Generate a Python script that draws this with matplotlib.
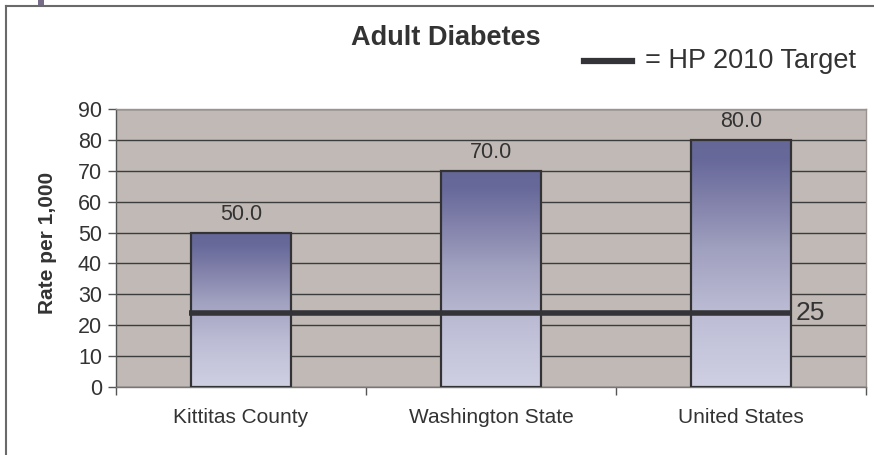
import numpy as np
import matplotlib
matplotlib.use('Agg')
import matplotlib.pyplot as plt
from matplotlib.colors import LinearSegmentedColormap
from matplotlib.lines import Line2D
from matplotlib.patches import Rectangle

plt.rcParams['font.family'] = ['Liberation Sans', 'DejaVu Sans']

# data
categories = ['Kittitas County', 'Washington State', 'United States']
rates = [50.0, 70.0, 80.0]
target_label = '25'
target_drawn = 24      # where the target line sits in the picture
yticks = [0, 10, 20, 30, 40, 50, 60, 70, 80, 90]

W, H = 874, 455
fig = plt.figure(figsize=(W / 100, H / 100), dpi=100)
fig.patch.set_facecolor('white')

# plot area in pixels: left 116, right 866, top 109, bottom 387
ax = fig.add_axes([116 / W, (H - 387) / H, 750 / W, 278 / H])
ax.set_facecolor('#c1b9b5')

txt = '#333333'
xs = np.arange(len(categories))
bw = 0.4

# bar gradient (bottom light -> top dark)
cmap = LinearSegmentedColormap.from_list('bars', [
    (0.0, '#d0d0e3'),
    (0.3, '#bcbcd5'),
    (0.55, '#a1a1c0'),
    (0.8, '#7a7aa6'),
    (0.92, '#67699a'),
    (1.0, '#656797'),
])
grad = np.linspace(0, 1, 256).reshape(-1, 1)

for x, v in zip(xs, rates):
    rect = Rectangle((x - bw / 2, 0), bw, v, facecolor='none',
                     edgecolor='#333336', linewidth=1.6, zorder=4)
    ax.add_patch(rect)
    im = ax.imshow(grad, extent=[x - bw / 2, x + bw / 2, 0, v], origin='lower',
                   aspect='auto', cmap=cmap, zorder=3, interpolation='bilinear')
    im.set_clip_path(rect)
    ax.text(x, v + 6, f'{v:.1f}', ha='center', va='center', fontsize=15.5, color=txt, zorder=5)

# target line
ax.plot([xs[0] - bw / 2 - 0.01, xs[-1] + bw / 2], [target_drawn, target_drawn],
        color='#333338', linewidth=4, solid_capstyle='butt', zorder=6)
ax.text(xs[-1] + bw / 2 + 0.018, target_drawn, target_label, ha='left', va='center',
        fontsize=19, color=txt, zorder=6)

ax.set_xlim(-0.5, len(categories) - 0.5)
ax.set_ylim(0, 90)
ax.set_yticks(yticks)
ax.yaxis.grid(True, color='#3c3c3c', linewidth=1)
ax.set_axisbelow(True)

ax.set_xticks(xs)
ax.set_xticklabels(categories, fontsize=15, color=txt)
ax.set_xticks(np.arange(len(categories) + 1) - 0.5, minor=True)
ax.tick_params(axis='x', which='major', length=0, pad=15)
ax.tick_params(axis='x', which='minor', length=6, color='#555555', width=1)
ax.tick_params(axis='y', length=6, color='#555555', width=1, labelsize=15.5,
               labelcolor=txt, pad=4)

ax.spines['left'].set_color('#555555')
ax.spines['bottom'].set_color('#777777')
ax.spines['top'].set_color('#9a9390')
ax.spines['right'].set_color('#9a9390')
for s in ax.spines.values():
    s.set_linewidth(1)

ax.set_ylabel('Rate per 1,000', fontsize=15, fontweight='bold', color=txt)
ax.yaxis.set_label_coords(-0.079, (387 - 243) / 278)

# title and legend key
fig.text(446 / W, 1 - 38 / H, 'Adult Diabetes', ha='center', va='center',
         fontsize=19.5, fontweight='bold', color=txt)
fig.add_artist(Line2D([584 / W, 632 / W], [1 - 61 / H, 1 - 61 / H],
                      transform=fig.transFigure, color='#333338', linewidth=4.5))
fig.text(645 / W, 1 - 61 / H, '= HP 2010 Target', ha='left', va='center',
         fontsize=19.5, color=txt)

# slide frame
fig.add_artist(Line2D([6 / W, 6 / W], [0, 1 - 6 / H], transform=fig.transFigure,
                      color='#6a6a6a', linewidth=1.5))
fig.add_artist(Line2D([6 / W, 1], [1 - 6 / H, 1 - 6 / H], transform=fig.transFigure,
                      color='#6a6a6a', linewidth=1.5))
fig.add_artist(Rectangle((38 / W, 1 - 6 / H), 6 / W, 6 / H, transform=fig.transFigure,
                         facecolor='#776d88', edgecolor='none'))

fig.savefig('out.png', dpi=100)
